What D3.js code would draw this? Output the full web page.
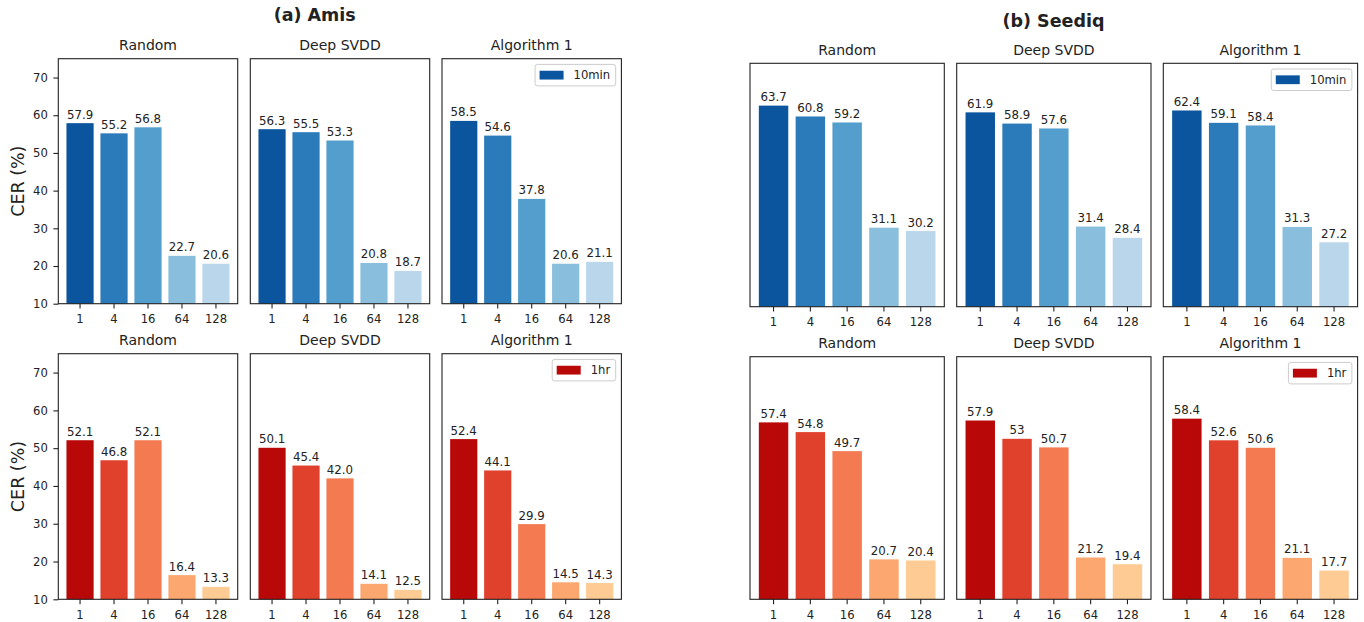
<!DOCTYPE html>
<html lang="en">
<head>
<meta charset="UTF-8">
<title>CER by batch size</title>
<script src="https://cdn.jsdelivr.net/npm/d3@7"></script>
<style>
  body { margin: 0; background: #fff; }
  text { font-family: "DejaVu Sans", sans-serif; fill: #222; }
</style>
</head>
<body>
<svg width="1364" height="622"></svg>
<script>
// categories
var sizes = ["1", "4", "16", "64", "128"];
var methods = ["Random", "Deep SVDD", "Algorithm 1"];
var yTicks = [10, 20, 30, 40, 50, 60, 70];

// CER (%) per method, one row per method in the order above
var amis10min = [[57.9, 55.2, 56.8, 22.7, 20.6], [56.3, 55.5, 53.3, 20.8, 18.7], [58.5, 54.6, 37.8, 20.6, 21.1]];
var amis1hr = [[52.1, 46.8, 52.1, 16.4, 13.3], [50.1, 45.4, 42.0, 14.1, 12.5], [52.4, 44.1, 29.9, 14.5, 14.3]];
var seediq10min = [[63.7, 60.8, 59.2, 31.1, 30.2], [61.9, 58.9, 57.6, 31.4, 28.4], [62.4, 59.1, 58.4, 31.3, 27.2]];
var seediq1hr = [[57.4, 54.8, 49.7, 20.7, 20.4], [57.9, 53, 50.7, 21.2, 19.4], [58.4, 52.6, 50.6, 21.1, 17.7]];

var blues = ["#0b559f", "#2b7bba", "#539ecd", "#89bedc", "#bad6eb"];
var reds = ["#b90808", "#e0412d", "#f47a52", "#fca76f", "#fdcb93"];

var svg = d3.select("svg");
var tickFs = 11.6, valFs = 11.8;

function panel(x0, top, w, bottom, vals, colors, title, showY, legendText, fmt) {
  var x = d3.scaleBand().domain(sizes).range([x0, x0 + w]).paddingInner(0.2).paddingOuter(0.24);
  var y = d3.scaleLinear().domain([10, 75]).range([bottom, top]);
  var g = svg.append("g");

  g.selectAll("rect.bar").data(vals).enter().append("rect")
    .attr("class", "bar")
    .attr("x", function (d, i) { return x(sizes[i]); })
    .attr("width", x.bandwidth())
    .attr("y", function (d) { return y(d); })
    .attr("height", function (d) { return y(10) - y(d); })
    .attr("fill", function (d, i) { return colors[i]; });

  g.selectAll("text.val").data(vals).enter().append("text")
    .attr("class", "val")
    .attr("x", function (d, i) { return x(sizes[i]) + x.bandwidth() / 2; })
    .attr("y", function (d) { return y(d) - 4.5; })
    .attr("text-anchor", "middle")
    .style("font-size", valFs + "px")
    .text(fmt);

  var xa = g.append("g").attr("transform", "translate(0," + bottom + ")")
    .call(d3.axisBottom(x).tickSize(4.9).tickPadding(6.2));
  xa.select(".domain").remove();
  xa.selectAll("line").attr("stroke", "#222").attr("stroke-width", 1.1);
  xa.selectAll("text").style("font-size", tickFs + "px").attr("fill", "#222").style("font-family", '"DejaVu Sans", sans-serif');

  if (showY) {
    var ya = g.append("g").attr("transform", "translate(" + x0 + ",0)")
      .call(d3.axisLeft(y).tickValues(yTicks).tickSize(4.9).tickPadding(5.6));
    ya.select(".domain").remove();
    ya.selectAll("line").attr("stroke", "#222").attr("stroke-width", 1.1);
    ya.selectAll("text").style("font-size", tickFs + "px").attr("fill", "#222").style("font-family", '"DejaVu Sans", sans-serif');
  }

  g.append("rect").attr("x", x0).attr("y", top).attr("width", w).attr("height", bottom - top)
    .attr("fill", "none").attr("stroke", "#222").attr("stroke-width", 1.1);

  g.append("text").attr("x", x0 + w / 2).attr("y", top - 8.5)
    .attr("text-anchor", "middle").style("font-size", "14px").text(title);

  if (legendText) {
    var lg = g.append("g");
    var box = lg.append("rect");
    var txt = lg.append("text").style("font-size", tickFs + "px").text(legendText);
    var tw = txt.node().getComputedTextLength();
    var bw = 4.5 + 24 + 10 + tw + 5.5, bh = 21.5;
    var bx = x0 + w - 5.7 - bw, by = top + 5.7;
    box.attr("x", bx).attr("y", by).attr("width", bw).attr("height", bh).attr("rx", 2.5)
      .attr("fill", "#fff").attr("fill-opacity", 0.8).attr("stroke", "#cccccc").attr("stroke-width", 1);
    lg.append("rect").attr("x", bx + 4.5).attr("y", by + bh / 2 - 4.4).attr("width", 24).attr("height", 8.8)
      .attr("fill", colors[0]);
    txt.attr("x", bx + 4.5 + 24 + 10).attr("y", by + bh / 2 + 4);
  }
}

var f1 = d3.format(".1f");
var fRaw = function (d) { return String(d); };

var amisX = [58.3, 250.3, 442], amisW = 179.4;
var seedX = [750, 956.7, 1163.3], seedW = 194.3;

methods.forEach(function (m, i) {
  panel(amisX[i], 58.7, amisW, 303.7, amis10min[i], blues, m, i === 0, i === 2 ? "10min" : null, f1);
  panel(amisX[i], 353.7, amisW, 599.3, amis1hr[i], reds, m, i === 0, i === 2 ? "1hr" : null, f1);
  panel(seedX[i], 63.3, seedW, 306.7, seediq10min[i], blues, m, false, i === 2 ? "10min" : null, fRaw);
  panel(seedX[i], 356.7, seedW, 599.3, seediq1hr[i], reds, m, false, i === 2 ? "1hr" : null, fRaw);
});

svg.append("text").attr("x", 314.7).attr("y", 20.7).attr("text-anchor", "middle")
  .style("font-size", "17.5px").style("font-weight", "bold").text("(a) Amis");
svg.append("text").attr("x", 1053.5).attr("y", 26.7).attr("text-anchor", "middle")
  .style("font-size", "17.5px").style("font-weight", "bold").text("(b) Seediq");

[181.2, 476.5].forEach(function (cy) {
  svg.append("text").attr("transform", "translate(24," + cy + ") rotate(-90)")
    .attr("text-anchor", "middle").style("font-size", "17.5px").text("CER (%)");
});
</script>
</body>
</html>
